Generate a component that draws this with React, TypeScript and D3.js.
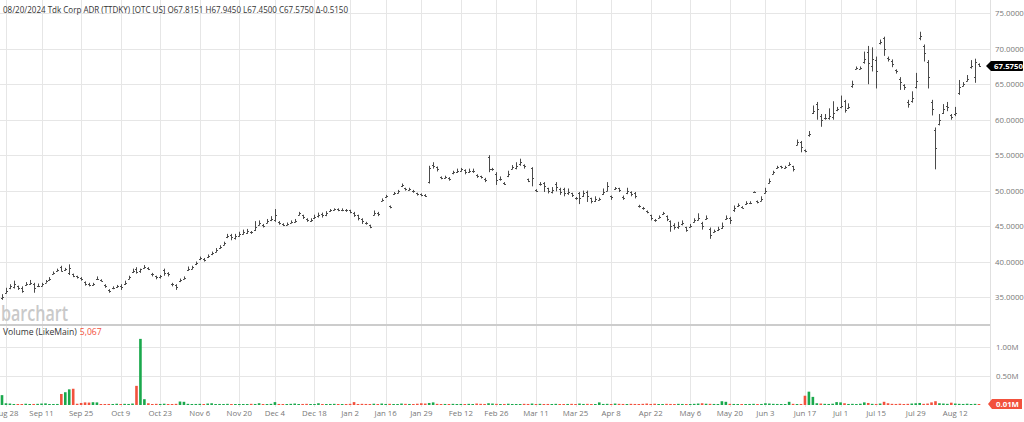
import React from "react";
import * as d3 from "d3";

const W = 1024;
const H = 422;

const startDate = "2023-08-25";
const endDate = "2024-08-20";
const holidays = [
  "2023-09-04", "2023-11-23", "2023-12-25", "2024-01-01", "2024-01-15",
  "2024-02-19", "2024-03-29", "2024-05-27", "2024-06-19", "2024-07-04",
];

const tickDates = [
  "2023-08-28", "2023-09-11", "2023-09-25", "2023-10-09", "2023-10-23", "2023-11-06",
  "2023-11-20", "2023-12-04", "2023-12-18", "2024-01-02", "2024-01-16", "2024-01-29",
  "2024-02-12", "2024-02-26", "2024-03-11", "2024-03-25", "2024-04-08", "2024-04-22",
  "2024-05-06", "2024-05-20", "2024-06-03", "2024-06-17", "2024-07-01", "2024-07-15",
  "2024-07-29", "2024-08-12",
];
const tickLabels = [
  "Aug 28", "Sep 11", "Sep 25", "Oct 9", "Oct 23", "Nov 6", "Nov 20", "Dec 4", "Dec 18",
  "Jan 2", "Jan 16", "Jan 29", "Feb 12", "Feb 26", "Mar 11", "Mar 25", "Apr 8", "Apr 22",
  "May 6", "May 20", "Jun 3", "Jun 17", "Jul 1", "Jul 15", "Jul 29", "Aug 12",
];

const priceTicks = [35, 40, 45, 50, 55, 60, 65, 70, 75];
const volumeTicks = [0.5, 1.0];

// [open, high, low, close]
const ohlc: [number, number, number, number][] = [
  [34.8, 35.4, 34.6, 35.0], [35.6, 36.3, 35.5, 35.8], [36.2, 36.8, 36.1, 36.5], [36.4, 37.3, 36.2, 36.8],
  [36.5, 36.6, 36.0, 36.3], [36.3, 36.5, 35.6, 35.9], [36.7, 37.1, 36.6, 36.9], [36.8, 37.4, 36.7, 37.0],
  [36.9, 37.0, 35.6, 36.3], [36.5, 36.9, 36.4, 36.6], [36.6, 37.0, 36.5, 36.8], [37.0, 37.4, 37.0, 37.2],
  [37.4, 37.8, 37.3, 37.6], [38.2, 38.6, 38.2, 38.4], [38.6, 39.0, 38.6, 38.8], [39.2, 39.4, 38.6, 38.7],
  [38.8, 39.1, 38.7, 39.0], [38.4, 39.6, 38.1, 39.1], [38.2, 38.3, 37.8, 38.0], [37.9, 38.0, 37.6, 37.8],
  [37.7, 37.8, 37.3, 37.5], [37.1, 37.2, 36.6, 36.9], [36.9, 37.0, 36.5, 36.7], [36.7, 37.0, 36.6, 36.8],
  [37.5, 37.9, 37.4, 37.6], [37.4, 37.5, 37.2, 37.3], [36.7, 36.8, 36.3, 36.5], [36.0, 36.1, 35.6, 35.9],
  [36.2, 36.5, 36.1, 36.3], [36.4, 36.7, 36.3, 36.5], [36.6, 36.8, 36.0, 36.4], [36.8, 37.3, 36.7, 37.0],
  [37.6, 38.0, 37.5, 37.8], [38.5, 39.0, 38.4, 38.7], [39.0, 39.2, 38.3, 38.5], [38.6, 39.0, 38.4, 38.9],
  [39.1, 39.5, 39.0, 39.3], [39.1, 39.2, 38.8, 39.0], [38.3, 38.4, 37.9, 38.2], [37.9, 38.0, 37.5, 37.8],
  [37.8, 38.1, 37.6, 37.9], [38.8, 39.0, 38.0, 38.4], [38.4, 38.5, 37.9, 38.3], [36.9, 37.0, 36.5, 36.8],
  [36.7, 36.8, 36.0, 36.4], [37.2, 37.6, 37.1, 37.4], [37.6, 37.9, 37.5, 37.7], [38.8, 39.3, 38.7, 39.0],
  [39.0, 39.4, 38.9, 39.2], [39.6, 40.0, 39.5, 39.8], [40.3, 40.7, 40.2, 40.5], [40.4, 40.5, 40.0, 40.2],
  [40.6, 41.0, 40.5, 40.8], [41.0, 41.4, 40.9, 41.2], [41.4, 41.9, 41.3, 41.6], [41.9, 42.3, 41.8, 42.0],
  [42.4, 42.8, 42.3, 42.6], [43.4, 43.9, 43.3, 43.6], [43.7, 43.9, 43.0, 43.4], [43.3, 43.9, 43.1, 43.6],
  [43.6, 44.2, 43.5, 43.9], [43.9, 44.5, 43.8, 44.1], [44.0, 44.6, 43.9, 44.3], [44.2, 44.3, 43.9, 44.1],
  [44.4, 45.7, 44.3, 44.9], [45.2, 45.8, 45.1, 45.4], [45.2, 45.3, 44.8, 45.0], [45.5, 46.0, 45.4, 45.7],
  [45.8, 46.4, 45.7, 46.0], [45.8, 47.4, 45.6, 46.6], [45.6, 45.7, 45.2, 45.4], [45.3, 45.4, 45.0, 45.2],
  [45.2, 45.5, 45.1, 45.3], [45.5, 45.8, 45.4, 45.6], [45.6, 46.0, 45.5, 45.7], [46.6, 47.0, 46.5, 46.8],
  [46.5, 46.6, 46.0, 46.3], [46.0, 46.1, 45.6, 45.8], [45.7, 46.1, 45.6, 45.9], [46.1, 46.6, 46.0, 46.3],
  [46.4, 46.9, 46.2, 46.6], [46.7, 46.9, 46.2, 46.5], [46.5, 47.1, 46.4, 46.8], [47.1, 47.4, 47.0, 47.2],
  [47.3, 47.5, 47.2, 47.4], [47.4, 47.5, 47.1, 47.3], [47.2, 47.5, 47.1, 47.3], [47.3, 47.4, 47.0, 47.2],
  [47.2, 47.3, 46.8, 47.0], [46.9, 47.0, 46.3, 46.6], [46.5, 46.6, 45.8, 46.2], [46.0, 46.1, 45.3, 45.7],
  [45.5, 45.6, 45.2, 45.4], [45.1, 45.2, 44.7, 44.9], [46.6, 47.2, 46.5, 46.8], [46.9, 47.0, 46.4, 46.7],
  [48.6, 48.9, 48.5, 48.7], [49.1, 49.4, 49.0, 49.2], [47.8, 47.9, 47.5, 47.7], [49.5, 49.8, 49.4, 49.6],
  [49.7, 50.1, 49.6, 49.9], [50.6, 51.0, 50.5, 50.8], [50.3, 50.4, 50.0, 50.2], [50.1, 50.4, 50.0, 50.2],
  [50.0, 50.1, 49.7, 49.9], [49.6, 49.7, 49.3, 49.5], [49.5, 49.6, 49.2, 49.4], [49.4, 49.5, 49.1, 49.3],
  [51.2, 53.5, 51.0, 53.2], [53.6, 54.0, 53.1, 53.5], [53.3, 53.4, 52.7, 53.0], [51.9, 52.0, 51.6, 51.8],
  [51.8, 52.1, 51.7, 51.9], [51.8, 51.9, 51.4, 51.6], [52.5, 52.8, 52.3, 52.6], [52.6, 53.1, 52.5, 52.8],
  [52.8, 53.2, 52.7, 53.0], [52.9, 53.0, 52.3, 52.6], [52.6, 53.1, 52.5, 52.8], [52.7, 53.1, 52.5, 52.8],
  [52.2, 52.3, 51.8, 52.0], [52.0, 52.1, 51.7, 51.9], [51.7, 51.8, 51.2, 51.5], [54.7, 55.0, 52.6, 53.0],
  [53.1, 53.2, 52.8, 53.0], [52.4, 52.6, 50.8, 51.5], [51.6, 52.0, 51.4, 51.7], [51.1, 51.2, 50.8, 51.0],
  [52.0, 52.8, 51.9, 52.3], [53.1, 53.6, 53.0, 53.3], [53.2, 54.0, 53.0, 53.5], [53.8, 54.5, 53.5, 54.0],
  [53.6, 53.7, 53.1, 53.4], [51.6, 51.7, 51.2, 51.4], [53.2, 53.3, 50.6, 51.8], [50.1, 50.2, 49.8, 50.0],
  [50.9, 51.2, 50.7, 51.0], [51.1, 51.2, 49.8, 50.6], [50.3, 50.4, 49.6, 50.0], [49.8, 50.5, 49.6, 50.1],
  [51.0, 51.2, 49.9, 50.5], [50.2, 50.4, 49.4, 49.8], [50.2, 50.4, 49.2, 49.6], [49.6, 50.3, 49.4, 49.8],
  [49.6, 49.7, 49.1, 49.4], [49.0, 49.1, 48.7, 48.9], [49.6, 49.8, 48.1, 48.9], [49.3, 50.0, 49.1, 49.6],
  [49.8, 50.0, 48.4, 49.2], [48.9, 49.0, 48.2, 48.6], [48.6, 49.2, 48.4, 48.8], [48.7, 49.0, 48.6, 48.8],
  [49.5, 50.3, 49.4, 49.8], [50.0, 51.2, 49.9, 50.7], [49.2, 49.3, 48.7, 49.1], [50.2, 50.5, 50.1, 50.3],
  [50.3, 50.4, 49.8, 50.1], [49.1, 49.3, 48.7, 49.0], [49.6, 50.4, 49.5, 49.9], [49.8, 49.9, 49.2, 49.5],
  [49.7, 49.8, 48.9, 49.2], [47.9, 48.0, 47.6, 47.8], [47.6, 47.7, 47.3, 47.5], [47.1, 47.2, 46.8, 47.0],
  [46.5, 46.6, 45.8, 46.1], [45.9, 46.0, 45.6, 45.8], [46.2, 46.5, 46.1, 46.3], [46.7, 47.0, 46.6, 46.8],
  [46.4, 46.5, 45.7, 46.0], [45.7, 45.8, 44.2, 45.0], [45.2, 45.4, 44.5, 44.9], [44.8, 45.6, 44.6, 45.0],
  [45.3, 45.8, 45.1, 45.4], [44.8, 44.9, 44.2, 44.5], [44.9, 45.3, 44.8, 45.0], [45.6, 46.1, 45.5, 45.8],
  [45.9, 46.8, 45.8, 46.2], [45.5, 45.6, 44.5, 45.0], [46.0, 46.5, 45.9, 46.2], [44.6, 44.8, 43.2, 43.8],
  [44.2, 44.5, 44.1, 44.3], [44.4, 44.9, 44.3, 44.6], [44.7, 45.5, 44.6, 45.0], [46.0, 46.5, 45.9, 46.2],
  [46.1, 46.3, 45.3, 45.8], [47.2, 47.9, 47.0, 47.5], [47.8, 48.2, 47.7, 48.0], [47.7, 47.8, 47.5, 47.6],
  [48.1, 48.5, 48.0, 48.3], [48.2, 48.5, 48.1, 48.3], [49.8, 49.9, 49.7, 49.8], [48.5, 48.6, 48.2, 48.4],
  [48.6, 49.2, 48.5, 48.8], [49.7, 50.4, 49.6, 50.0], [51.1, 51.7, 51.0, 51.4], [52.4, 52.8, 52.3, 52.6],
  [53.2, 53.5, 53.1, 53.3], [53.4, 53.5, 53.1, 53.3], [53.2, 53.5, 53.1, 53.3], [53.6, 54.0, 53.5, 53.7],
  [53.4, 53.5, 52.7, 53.1], [56.5, 57.2, 56.4, 56.8], [56.9, 57.0, 55.4, 56.1], [55.7, 55.8, 55.4, 55.6],
  [57.8, 58.4, 57.6, 58.0], [61.0, 62.0, 60.8, 61.2], [62.2, 62.5, 60.0, 61.5], [60.5, 60.8, 59.0, 60.0],
  [60.2, 60.8, 60.0, 60.3], [60.2, 61.6, 60.0, 60.5], [60.4, 62.6, 60.0, 61.0], [61.4, 61.8, 61.2, 61.5],
  [61.8, 63.4, 61.6, 62.0], [62.6, 62.8, 61.0, 61.3], [61.6, 62.3, 61.5, 61.8], [64.8, 65.5, 64.5, 65.0],
  [67.2, 67.5, 67.1, 67.3], [67.2, 67.5, 67.1, 67.3], [68.2, 69.6, 67.9, 68.6], [69.5, 70.4, 65.0, 68.0],
  [67.5, 70.2, 66.8, 68.5], [68.4, 68.9, 64.4, 66.8], [70.8, 71.3, 70.6, 71.0], [71.5, 71.7, 69.0, 70.0],
  [68.7, 68.9, 68.2, 68.5], [68.3, 68.5, 67.4, 67.9], [67.0, 67.1, 66.5, 66.8], [65.8, 66.0, 64.2, 65.3],
  [64.9, 65.0, 64.2, 64.6], [62.5, 62.8, 61.7, 62.2], [62.6, 64.0, 62.4, 63.0], [64.6, 66.6, 64.4, 65.5],
  [71.5, 72.4, 71.2, 71.8], [70.4, 70.6, 68.2, 69.4], [68.2, 68.4, 64.4, 66.0], [62.5, 62.8, 60.6, 61.5],
  [58.5, 58.9, 53.0, 56.0], [59.4, 60.8, 59.2, 60.0], [61.0, 62.2, 60.8, 61.5], [62.0, 62.5, 61.2, 61.8],
  [60.6, 60.8, 60.0, 60.4], [60.8, 61.8, 60.5, 61.0], [63.8, 65.6, 63.5, 64.6], [64.8, 65.3, 64.7, 65.0],
  [65.5, 66.3, 65.4, 65.7], [67.4, 68.4, 67.2, 67.6], [66.0, 68.6, 65.2, 68.09], [67.8151, 67.945, 67.45, 67.575],
];

// thousands of shares
const volumesK = [
  170, 30, 25, 12, 10, 15, 22, 14, 18, 20,
  25, 28, 12, 15, 18, 190, 220, 270, 280, 22,
  35, 45, 42, 48, 45, 15, 10, 18, 16, 22,
  15, 20, 18, 25, 330, 1140, 100, 30, 15, 20,
  18, 22, 15, 12, 20, 60, 55, 20, 15, 18,
  20, 14, 25, 30, 12, 18, 15, 20, 12, 14,
  10, 12, 15, 20, 18, 30, 15, 12, 20, 50,
  18, 15, 12, 20, 25, 15, 18, 20, 12, 15,
  30, 15, 12, 18, 20, 15, 10, 12, 20, 50,
  15, 20, 18, 12, 22, 15, 25, 18, 20, 15,
  12, 25, 20, 18, 15, 22, 30, 25, 35, 45,
  20, 15, 18, 12, 20, 15, 18, 12, 20, 15,
  25, 20, 18, 30, 25, 20, 15, 18, 22, 15,
  12, 15, 20, 18, 25, 15, 20, 12, 18, 15,
  20, 15, 12, 18, 20, 15, 25, 18, 20, 15,
  12, 45, 18, 20, 15, 25, 20, 18, 15, 20,
  18, 15, 20, 25, 18, 22, 15, 12, 20, 18,
  15, 20, 18, 15, 12, 20, 25, 30, 22, 20,
  18, 15, 65, 55, 20, 18, 15, 12, 15, 18,
  20, 15, 18, 30, 25, 20, 18, 15, 12, 55,
  20, 15, 18, 160, 230, 140, 30, 25, 20, 18,
  22, 50, 45, 30, 18, 20, 15, 22, 45, 35,
  20, 18, 25, 55, 30, 20, 18, 22, 15, 20,
  25, 30, 35, 20, 25, 45, 65, 30, 25, 20,
  40, 25, 20, 18, 22, 15, 20, 5,
];

const headerText =
  "08/20/2024 Tdk Corp ADR (TTDKY) [OTC US] O67.8151 H67.9450 L67.4500 C67.5750 \u0394-0.5150";
const lastVolumeText = "5,067";

function tradingDays(): string[] {
  const out: string[] = [];
  const hol = new Set(holidays);
  const d = new Date(startDate + "T00:00:00Z");
  const end = new Date(endDate + "T00:00:00Z");
  while (d <= end) {
    const wd = d.getUTCDay();
    const s = d.toISOString().slice(0, 10);
    if (wd !== 0 && wd !== 6 && !hol.has(s)) out.push(s);
    d.setUTCDate(d.getUTCDate() + 1);
  }
  return out;
}

const FONT = "'Open Sans', 'Noto Sans', sans-serif";
const GRID = "#e6e6e6";
const UP = "#1aa84c";
const DOWN = "#f2513d";
const BAR = "#4a4a4a";

export default function App() {
  const days = tradingDays();
  const n = Math.min(days.length, ohlc.length);
  const dom = days.slice(0, n);

  const plotRight = 990;
  const x = d3.scalePoint<string>().domain(dom).range([2, 979]);
  const y = d3.scaleLinear().domain([35, 75]).range([297, 13.3]);
  const vy = d3.scaleLinear().domain([0, 1.0]).range([405, 347]);

  const lastClose = ohlc[n - 1][3];
  const ly = y(lastClose);

  return (
    <svg
      width={W}
      height={H}
      style={{ position: "absolute", left: 0, top: 0, display: "block", background: "#fff" }}
      fontFamily={FONT}
    >
      {priceTicks.map((t) => (
        <line key={"pg" + t} x1={0} x2={plotRight} y1={Math.round(y(t)) + 0.5} y2={Math.round(y(t)) + 0.5} stroke={GRID} />
      ))}
      {volumeTicks.map((t) => (
        <line key={"vg" + t} x1={0} x2={plotRight} y1={Math.round(vy(t)) + 0.5} y2={Math.round(vy(t)) + 0.5} stroke={GRID} />
      ))}
      {tickDates.map((d) => {
        const px = x(d);
        if (px === undefined) return null;
        const xx = Math.round(px) + 0.5;
        return <line key={"vgl" + d} x1={xx} x2={xx} y1={0} y2={407} stroke={GRID} />;
      })}

      <text x={1} y={321} fontSize={22} fontWeight={600} fill="#c9c9c9" textLength={67} lengthAdjust="spacingAndGlyphs" fontFamily="'Open Sans', sans-serif">
        barchart
      </text>

      <line x1={0} x2={plotRight} y1={325} y2={325} stroke="#cccccc" strokeWidth={2} />
      <line x1={plotRight + 0.5} x2={plotRight + 0.5} y1={0} y2={407} stroke="#e0e0e0" />

      {dom.map((d, i) => {
        const [o, h, l, c] = ohlc[i];
        const cx = Math.round(x(d) as number) + 0.5;
        return (
          <g key={"b" + i} stroke={BAR} strokeWidth={1}>
            <line x1={cx} x2={cx} y1={y(h)} y2={y(l)} />
            <line x1={cx - 1.5} x2={cx} y1={Math.round(y(o)) + 0.5} y2={Math.round(y(o)) + 0.5} />
            <line x1={cx} x2={cx + 1.5} y1={Math.round(y(c)) + 0.5} y2={Math.round(y(c)) + 0.5} />
          </g>
        );
      })}

      {dom.map((d, i) => {
        const v = volumesK[i] / 1000;
        const prev = i > 0 ? ohlc[i - 1][3] : ohlc[i][0];
        const up = ohlc[i][3] >= prev;
        const cx = x(d) as number;
        const top = Math.min(vy(v), 404);
        return (
          <rect key={"v" + i} x={cx - 1.3} width={2.6} y={top} height={405 - top} fill={up ? UP : DOWN} />
        );
      })}

      <text x={3} y={13} fontSize={8.6} fill="#333" textLength={345} lengthAdjust="spacingAndGlyphs">
        {headerText}
      </text>

      <text x={3} y={334.5} fontSize={8.6} fill="#333">
        Volume  (LikeMain)
        <tspan fill={DOWN} dx={3}>{lastVolumeText}</tspan>
      </text>

      {priceTicks.map((t) => (
        <text key={"pl" + t} x={995} y={y(t) + 3} fontSize={7.8} fill="#777">
          {t.toFixed(4)}
        </text>
      ))}
      {volumeTicks.map((t) => (
        <text key={"vl" + t} x={996} y={vy(t) + 3} fontSize={7.8} fill="#777">
          {t.toFixed(2) + "M"}
        </text>
      ))}

      <path
        d={`M${plotRight - 4},${ly} L${plotRight + 1},${ly - 5} L1022,${ly - 5} Q1023,${ly - 5} 1023,${ly - 4} L1023,${ly + 4} Q1023,${ly + 5} 1022,${ly + 5} L${plotRight + 1},${ly + 5} Z`}
        fill="#000"
      />
      <text x={994} y={ly + 3} fontSize={7.8} fontWeight="bold" fill="#fff">
        {lastClose.toFixed(4)}
      </text>

      <path
        d={`M${plotRight - 2},404 L${plotRight + 2},399 L1022,399 L1022,409 L${plotRight + 2},409 Z`}
        fill={DOWN}
      />
      <text x={996} y={407} fontSize={7.8} fontWeight="bold" fill="#fff">
        {(volumesK[n - 1] / 1000).toFixed(2) + "M"}
      </text>

      {tickDates.map((d, k) => {
        const px = x(d);
        if (px === undefined) return null;
        return (
          <text key={"dl" + d} x={px} y={416} fontSize={7.8} fill="#777" textAnchor="middle">
            {tickLabels[k]}
          </text>
        );
      })}
    </svg>
  );
}
